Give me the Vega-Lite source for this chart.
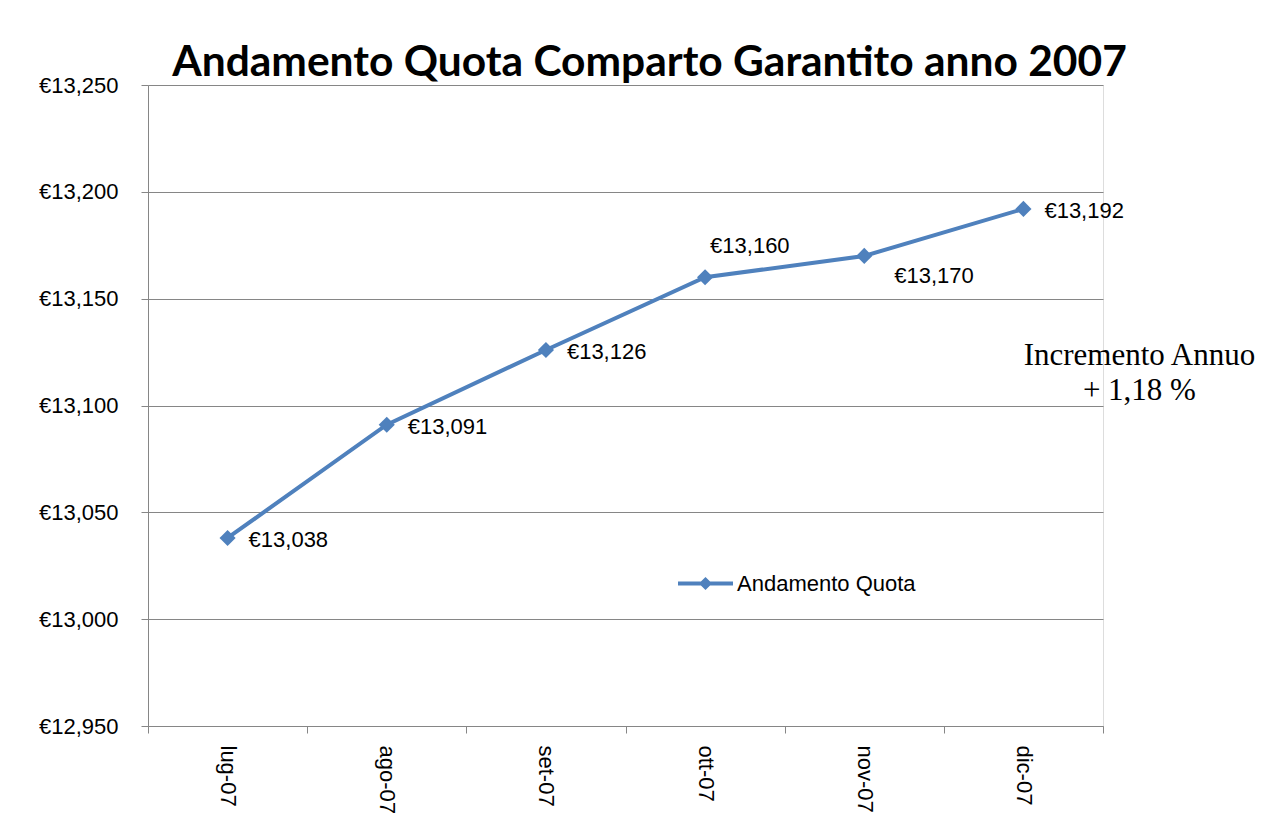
{
  "$schema": "https://vega.github.io/schema/vega-lite/v6.json",
  "autosize": "none",
  "width": 955,
  "height": 641,
  "padding": {"left": 148, "top": 85, "right": 175, "bottom": 110},
  "background": "white",
  "config": {
    "locale": {
      "number": {"decimal": ".", "thousands": ",", "grouping": [3], "currency": ["€", ""]}
    }
  },
  "title": {
    "text": "Andamento Quota Comparto Garantito anno 2007",
    "font": "Lato",
    "fontWeight": "bold",
    "fontSize": 42.5,
    "color": "#000000",
    "anchor": "middle",
    "dx": 24,
    "offset": -10
  },
  "data": {
    "values": [
      {"mese": "lug-07", "quota": 13038, "serie": "Andamento Quota"},
      {"mese": "ago-07", "quota": 13091, "serie": "Andamento Quota"},
      {"mese": "set-07", "quota": 13126, "serie": "Andamento Quota"},
      {"mese": "ott-07", "quota": 13160, "serie": "Andamento Quota"},
      {"mese": "nov-07", "quota": 13170, "serie": "Andamento Quota"},
      {"mese": "dic-07", "quota": 13192, "serie": "Andamento Quota"}
    ]
  },
  "encoding": {
    "x": {
      "field": "mese",
      "type": "ordinal",
      "sort": null,
      "title": null,
      "scale": {"paddingInner": 0, "paddingOuter": 0},
      "axis": {
        "labelAngle": 90,
        "labelAlign": "left",
        "labelBaseline": "middle",
        "labelFont": "Liberation Sans",
        "labelFontSize": 22,
        "labelColor": "#000000",
        "labelPadding": 12,
        "tickBand": "extent",
        "tickSize": 7,
        "tickColor": "#868686",
        "domainColor": "#868686",
        "grid": false
      }
    },
    "y": {
      "field": "quota",
      "type": "quantitative",
      "title": null,
      "scale": {"domain": [12950, 13250], "nice": false, "zero": false},
      "axis": {
        "values": [12950, 13000, 13050, 13100, 13150, 13200, 13250],
        "format": "$,.0f",
        "labelFont": "Liberation Sans",
        "labelFontSize": 22,
        "labelColor": "#000000",
        "labelPadding": 23,
        "tickSize": 7,
        "tickColor": "#868686",
        "domainColor": "#868686",
        "gridColor": "#868686",
        "gridWidth": 1
      }
    }
  },
  "layer": [
    {
      "mark": {"type": "line", "strokeWidth": 4},
      "encoding": {
        "color": {
          "field": "serie",
          "type": "nominal",
          "scale": {"range": ["#4F81BD"]},
          "legend": {
            "title": null,
            "orient": "none",
            "legendX": 530,
            "legendY": 471,
            "symbolType": "M-1,-0.075H1V0.075H-1Z M-0.24,0L0,-0.24L0.24,0L0,0.24Z",
            "symbolSize": 3025,
            "symbolFillColor": "#4F81BD",
            "symbolStrokeColor": "#4F81BD",
            "symbolStrokeWidth": 0,
            "labelFont": "Liberation Sans",
            "labelFontSize": 22,
            "labelColor": "#000000",
            "labelOffset": 4,
            "labelLimit": 0
          }
        }
      }
    },
    {
      "mark": {"type": "point", "shape": "diamond", "filled": true, "size": 260, "opacity": 1},
      "encoding": {
        "color": {"field": "serie", "type": "nominal", "legend": null}
      }
    },
    {
      "transform": [{"filter": "indexof(['lug-07','ago-07','set-07','dic-07'], datum.mese) >= 0"}],
      "mark": {"type": "text", "align": "left", "baseline": "middle", "dx": 21, "dy": 2, "font": "Liberation Sans", "fontSize": 22, "color": "#000000"},
      "encoding": {"text": {"field": "quota", "type": "quantitative", "format": "$,.0f"}}
    },
    {
      "transform": [{"filter": "datum.mese == 'ott-07'"}],
      "mark": {"type": "text", "align": "left", "baseline": "middle", "dx": 5, "dy": -31, "font": "Liberation Sans", "fontSize": 22, "color": "#000000"},
      "encoding": {"text": {"field": "quota", "type": "quantitative", "format": "$,.0f"}}
    },
    {
      "transform": [{"filter": "datum.mese == 'nov-07'"}],
      "mark": {"type": "text", "align": "left", "baseline": "middle", "dx": 30, "dy": 20, "font": "Liberation Sans", "fontSize": 22, "color": "#000000"},
      "encoding": {"text": {"field": "quota", "type": "quantitative", "format": "$,.0f"}}
    },
    {
      "data": {"values": [{"mese": "dic-07", "quota": 13123}]},
      "mark": {"type": "text", "align": "center", "baseline": "middle", "dx": 116, "font": "Liberation Serif", "fontSize": 31, "lineHeight": 35, "color": "#000000", "text": ["Incremento Annuo", "+ 1,18 %"]}
    }
  ]
}
